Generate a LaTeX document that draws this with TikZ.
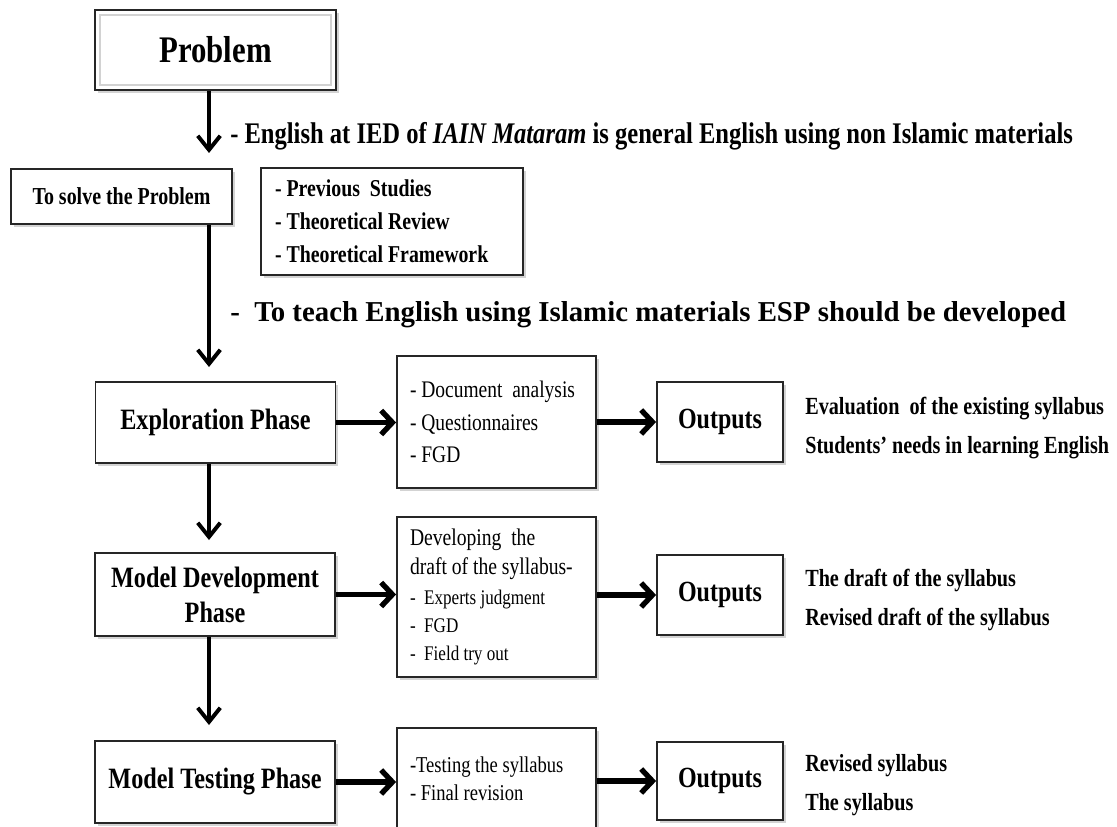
\documentclass[tikz,border=0pt]{standalone}
\usepackage{fontspec}
\setmainfont[FakeStretch=0.82]{Liberation Serif}
\newfontfamily\plainfont{Liberation Serif}
\usetikzlibrary{arrows.meta}
\usetikzlibrary{shadows}
\newlength\px
\setlength\px{0.025cm}
\tikzset{box/.style = {draw=black!85, line width=1.3pt, fill=white,
                       drop shadow={opacity=0.35, shadow xshift=2pt, shadow yshift=-2pt},
                       inner sep=0, align=center}}
\tikzset{phase/.style = {box, minimum width=240\px, minimum height=81\px,
                         font=\bfseries\fontsize{21}{25}\selectfont}}
\tikzset{list/.style = {box, inner xsep=13\px, text width=173\px, align=flush left}}
\tikzset{outbox/.style = {box, minimum width=126\px, minimum height=80\px,
                          font=\bfseries\fontsize{20.8}{24}\selectfont}}
\tikzset{result/.style = {anchor=west, inner sep=0, align=left,
                          font=\bfseries\fontsize{17.5}{27.5}\selectfont}}
\tikzset{note/.style = {anchor=west, inner sep=0}}
\tikzset{vline/.style = {line width=2.8pt, -{Straight Barb[length=10pt, width=16pt]}}}
\tikzset{hline/.style = {line width=3.8pt, -{Straight Barb[length=8pt, width=17pt]}}}

\begin{document}
\begin{tikzpicture}[x=0.025cm, y=-0.025cm]
        \useasboundingbox (0, 0) rectangle (1117, 827);
        \clip (0, 0) rectangle (1117, 827);

        \node [box, minimum width=241\px, minimum height=80\px,
               font=\bfseries\fontsize{26.7}{30}\selectfont] (prob) at (215.5, 50) {Problem};
        \draw [gray!35, line width=1pt] ([shift={(6, 6)}]prob.north west) rectangle ([shift={(-6, -6)}]prob.south east);

        \node [box, minimum width=221\px, minimum height=55\px,
               font=\bfseries\fontsize{17.3}{20}\selectfont] (solve) at (121.5, 196.5) {To solve the Problem};
        \node [box, inner xsep=14\px, text width=234\px, minimum height=107\px, align=flush left,
               font=\bfseries\fontsize{17.2}{23.5}\selectfont] (prev) at (392, 221.5)
              {- Previous\ \ Studies\\- Theoretical Review\\- Theoretical Framework};

        \node [note, font=\bfseries\fontsize{21.3}{24}\selectfont] (why) at (230, 136)
              {- English at IED of \textit{IAIN Mataram} is general English using non Islamic materials};
        \node [note, font=\plainfont\bfseries\fontsize{20.5}{24}\selectfont] (aim) at (230, 315)
              {-\ \ To teach English using Islamic materials ESP should be developed};

        \node [phase] (explore) at (215.5, 422.5) {Exploration Phase};
        \node [list, minimum height=132\px, font=\fontsize{16.9}{23.2}\selectfont] (doc) at (496.5, 422)
              {\mbox{- Document\ \ analysis}\\\mbox{- Questionnaires}\\\mbox{- FGD}};
        \node [outbox] (out1) at (720, 422) {Outputs};
        \node [result] (res1) at (805, 428) {Evaluation\ \ of the existing syllabus\\Students’ needs in learning\ English};

        \node [phase, minimum height=83\px] (devphase) at (215, 594.5) {Model Development\\Phase};
        \node [list, minimum height=160\px, font=\fontsize{17}{20}\selectfont] (dev) at (496.5, 597)
              {\mbox{Developing\ \ the}\\[1pt]\mbox{draft of the syllabus-}\\[1pt]
               \mbox{\fontsize{14.8}{20}\selectfont -\ \ Experts judgment}\\
               \mbox{\fontsize{14.8}{20}\selectfont -\ \ FGD}\\
               \mbox{\fontsize{14.8}{20}\selectfont -\ \ Field try out}};
        \node [outbox] (out2) at (720, 595) {Outputs};
        \node [result] (res2) at (805, 600) {The draft\ of the syllabus\\Revised draft\ of the syllabus};

        \node [phase, minimum height=82\px] (testphase) at (215, 782) {Model Testing Phase};
        \node [list, minimum height=102\px, font=\fontsize{16.1}{20}\selectfont] (test) at (496.5, 779)
              {\mbox{-Testing the syllabus}\\\mbox{- Final revision}};
        \node [outbox, minimum height=78\px] (out3) at (720, 781) {Outputs};
        \node [result] (res3) at (805, 785) {Revised syllabus\\The syllabus};

        \coordinate (t1) at (209, 153);
        \coordinate (t2) at (209, 367);
        \coordinate (t3) at (209, 540);
        \coordinate (t4) at (209, 725);
        \draw [vline] (prob.south -| t1) -- (t1);
        \draw [vline] (solve.south -| t2) -- (t2);
        \draw [vline] (explore.south -| t3) -- (t3);
        \draw [vline] (devphase.south -| t4) -- (t4);

        \draw [hline] (explore.east) -- (explore.east -| doc.west);
        \draw [hline] (doc.east |- out1.west) -- (out1.west);
        \draw [hline] (devphase.east) -- (devphase.east -| dev.west);
        \draw [hline] (dev.east |- out2.west) -- (out2.west);
        \draw [hline] (testphase.east) -- (testphase.east -| test.west);
        \draw [hline] (test.east |- out3.west) -- (out3.west);
      \end{tikzpicture}
\end{document}
